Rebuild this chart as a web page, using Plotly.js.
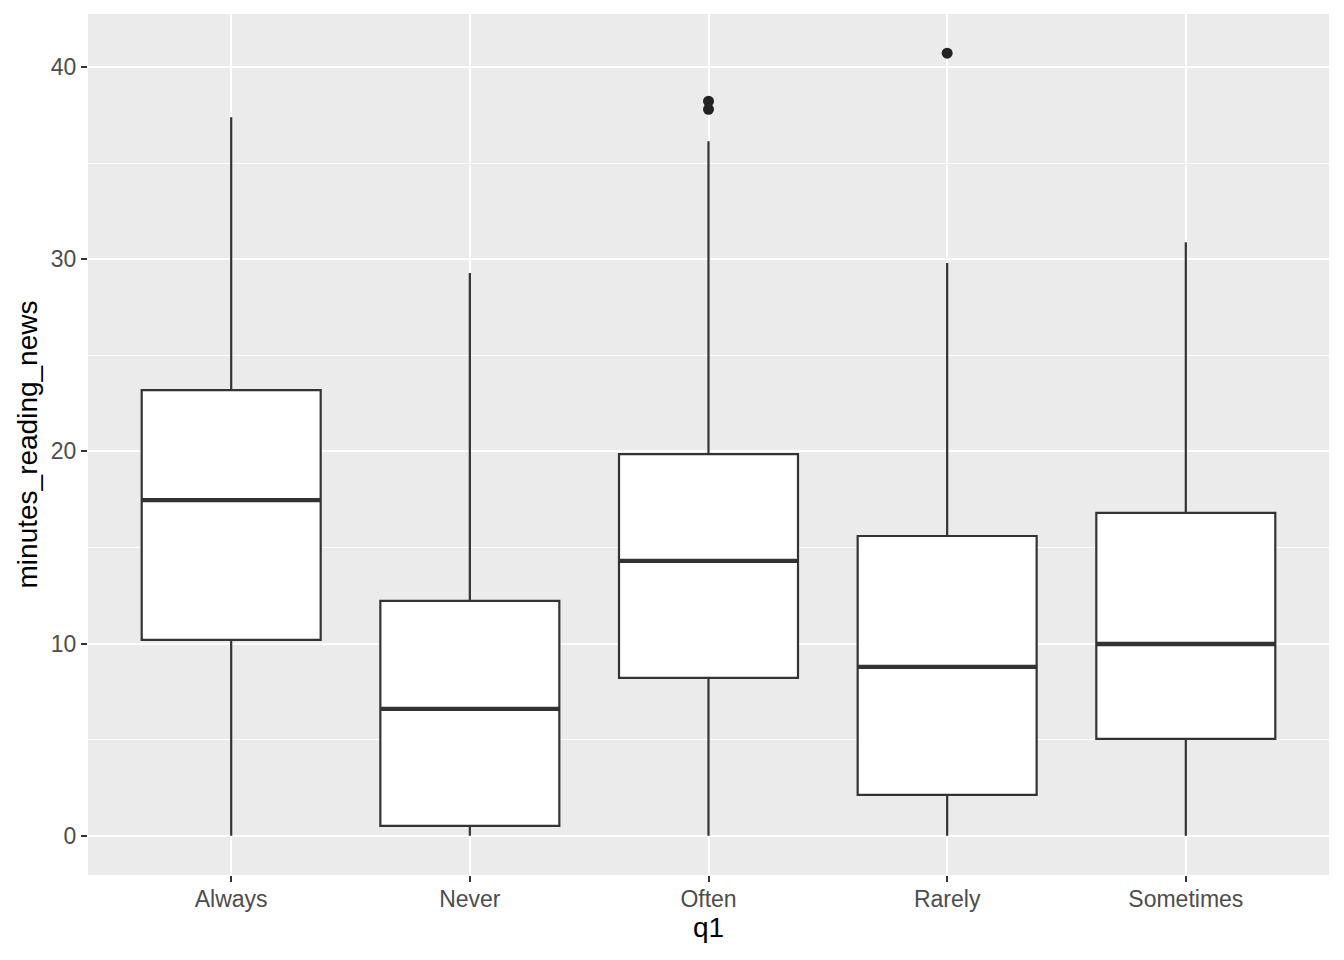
<!DOCTYPE html>
<html>
<head>
<meta charset="utf-8">
<script src="https://cdn.plot.ly/plotly-3.0.1.min.js"></script>
<style>html,body{margin:0;padding:0;background:#fff;}#chart{width:1344px;height:960px;}</style>
</head>
<body>
<div id="chart"></div>
<script>
const categories = ["Always", "Never", "Often", "Rarely", "Sometimes"];
const lowerWhisker = [0, 0, 0, 0, 0];
const q1Values = [10.19, 0.52, 8.22, 2.13, 5.04];
const medianValues = [17.47, 6.6, 14.3, 8.79, 9.98];
const q3Values = [23.19, 12.22, 19.86, 15.6, 16.8];
const upperWhisker = [37.39, 29.28, 36.14, 29.8, 30.89];
const outlierCategory = ["Often", "Often", "Rarely"];
const outlierValues = [38.22, 37.8, 40.72];

const pos = categories.map((c, i) => i);
const boxWidth = 0.75;
const ink = "#333333";

const medX = [], medY = [];
pos.forEach((p, i) => {
  medX.push(p - boxWidth / 2, p + boxWidth / 2, null);
  medY.push(medianValues[i], medianValues[i], null);
});

const traces = [
  {
    type: "box",
    x: pos,
    q1: q1Values,
    median: medianValues,
    q3: q3Values,
    lowerfence: lowerWhisker,
    upperfence: upperWhisker,
    width: boxWidth,
    whiskerwidth: 0,
    boxpoints: false,
    fillcolor: "#ffffff",
    line: { color: ink, width: 2.2 },
    hoverinfo: "skip",
    showlegend: false
  },
  {
    type: "scatter",
    mode: "lines",
    x: medX,
    y: medY,
    line: { color: ink, width: 4.3 },
    hoverinfo: "skip",
    showlegend: false
  },
  {
    type: "scatter",
    mode: "markers",
    x: outlierCategory.map(c => categories.indexOf(c)),
    y: outlierValues,
    marker: { color: "#222222", size: 11 },
    hoverinfo: "skip",
    showlegend: false
  }
];

const layout = {
  width: 1344,
  height: 960,
  margin: { l: 88, r: 15, t: 14, b: 85 },
  paper_bgcolor: "#ffffff",
  plot_bgcolor: "#EBEBEB",
  font: { family: "Liberation Sans, Arial, sans-serif", color: "#000000" },
  xaxis: {
    range: [-0.6, categories.length - 0.4],
    tickvals: pos,
    ticktext: categories,
    showgrid: true,
    gridcolor: "#ffffff",
    gridwidth: 2,
    zeroline: false,
    showline: false,
    ticks: "outside",
    ticklen: 6,
    tickwidth: 2,
    tickcolor: ink,
    ticklabelstandoff: -3,
    tickfont: { size: 23, color: "#4D4D4D" },
    title: { text: "q1", font: { size: 28, color: "#000000" }, standoff: 5 },
    automargin: false
  },
  yaxis: {
    range: [-2.04, 42.76],
    tickvals: [0, 10, 20, 30, 40],
    showgrid: true,
    gridcolor: "#ffffff",
    gridwidth: 2,
    minor: { tickvals: [5, 15, 25, 35], showgrid: true, gridcolor: "#ffffff", gridwidth: 1, ticks: "" },
    zeroline: false,
    showline: false,
    ticks: "outside",
    ticklen: 6,
    tickwidth: 2,
    tickcolor: ink,
    tickfont: { size: 23, color: "#4D4D4D" },
    title: { text: "minutes_reading_news", font: { size: 28, color: "#000000" }, standoff: 5 },
    automargin: false
  }
};

Plotly.newPlot("chart", traces, layout, { displayModeBar: false, staticPlot: true });
</script>
</body>
</html>
